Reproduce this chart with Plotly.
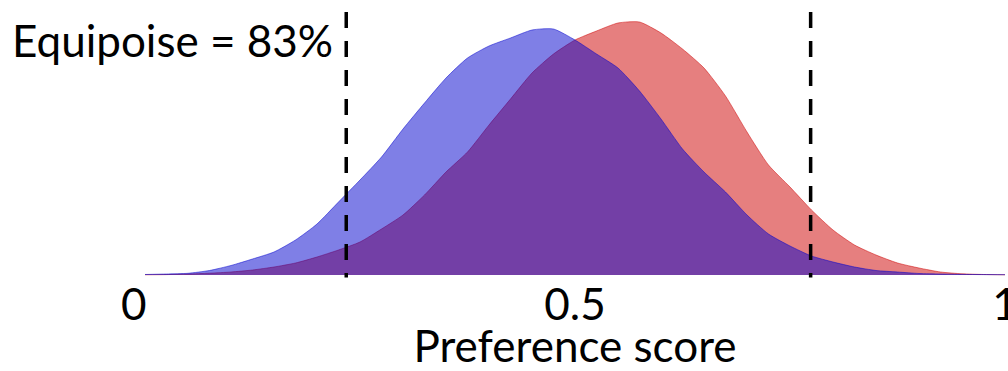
import plotly.graph_objects as go

# Preference score grid (0 to 1 in steps of 0.025)
score = [i * 0.025 for i in range(41)]

# Estimated density of preference scores, group drawn in blue
density_blue = [0.005, 0.01, 0.017, 0.045, 0.095, 0.16, 0.23, 0.35, 0.51, 0.73,
                0.95, 1.18, 1.46, 1.72, 1.97, 2.17, 2.29, 2.37, 2.45, 2.46,
                2.35, 2.21, 2.07, 1.84, 1.56, 1.26, 1.03, 0.83, 0.60, 0.41,
                0.29, 0.19, 0.13, 0.08, 0.045, 0.03, 0.015, 0.01, 0.006, 0.004, 0.003]

# Estimated density of preference scores, group drawn in red
density_red = [0.002, 0.004, 0.01, 0.018, 0.03, 0.05, 0.08, 0.12, 0.18, 0.25,
               0.33, 0.46, 0.60, 0.80, 1.03, 1.23, 1.50, 1.76, 2.02, 2.21,
               2.35, 2.44, 2.52, 2.53, 2.42, 2.26, 2.07, 1.79, 1.43, 1.10,
               0.88, 0.65, 0.45, 0.30, 0.20, 0.12, 0.07, 0.03, 0.012, 0.005, 0.002]

# Equipoise bounds and share of patients inside them
equipoise_bounds = [0.234, 0.774]
equipoise_label = "Equipoise = 83%"

tick_values = [0, 0.5, 1]
tick_text = ["0\u00a0\u00a0", "0.5", "1"]
axis_title = "Preference score"

FONT = "Lato"

fig = go.Figure()

fig.add_trace(go.Scatter(
    x=score, y=density_red, mode="lines", fill="tozeroy",
    line=dict(color="rgba(205,0,0,0.5)", width=1, shape="spline", smoothing=0.6),
    fillcolor="rgba(205,0,0,0.5)", hoverinfo="skip", showlegend=False,
))
fig.add_trace(go.Scatter(
    x=score, y=density_blue, mode="lines", fill="tozeroy",
    line=dict(color="rgba(0,0,205,0.5)", width=1, shape="spline", smoothing=0.6),
    fillcolor="rgba(0,0,205,0.5)", hoverinfo="skip", showlegend=False,
))

for xb in equipoise_bounds:
    fig.add_shape(
        type="line", xref="x", yref="y",
        x0=xb, x1=xb, y0=2.63, y1=-0.025,
        line=dict(color="black", width=3.5, dash="16px,13px"),
    )

fig.add_annotation(
    text=equipoise_label, xref="paper", yref="paper",
    x=(10 - 145) / 860, y=(278 - 40) / 278, xanchor="left", yanchor="middle",
    showarrow=False, font=dict(family=FONT, size=44, color="black"),
)

fig.update_layout(
    width=1008, height=371,
    margin=dict(l=145, r=3, t=0, b=93, autoexpand=False),
    paper_bgcolor="white", plot_bgcolor="white",
    xaxis=dict(
        range=[0, 1], tickvals=tick_values, ticktext=tick_text,
        showgrid=False, zeroline=False, showline=False, ticks="",
        automargin=False, ticklabeloverflow="allow", ticklabelstandoff=-3,
        tickfont=dict(family=FONT, size=44, color="black"),
        title=dict(text=axis_title, font=dict(family=FONT, size=44, color="black"), standoff=2),
    ),
    yaxis=dict(
        range=[-0.03, 2.75], visible=False, showgrid=False, zeroline=False,
        automargin=False,
    ),
)

fig.write_html("out.html")
